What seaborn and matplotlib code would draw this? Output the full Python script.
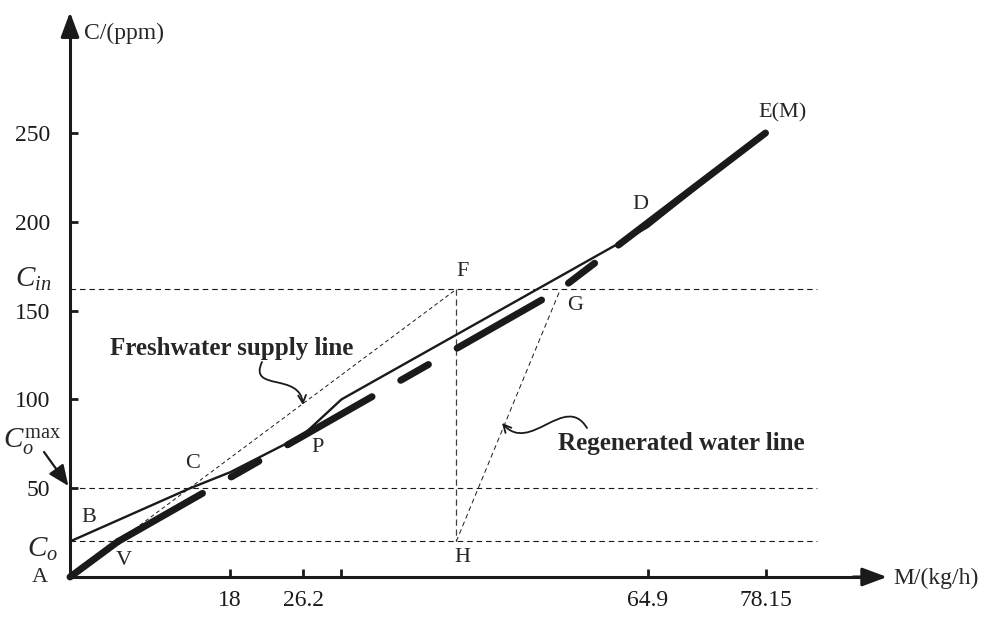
import numpy as np
import pandas as pd
import matplotlib.pyplot as plt
import seaborn as sns
from matplotlib.path import Path
from matplotlib.patches import FancyArrowPatch

# solid curve B-C-P-D-E
lcc_m = [0, 13.5, 18, 26.2, 30.5, 64.9, 78.15]
lcc_c = [20, 50, 59, 80, 100, 197, 250]

# thick dashed curve A-V-G-E
reg_m = [0, 5.4, 55.1, 78.15]
reg_c = [0, 20, 162, 250]

c_o = 20
c_o_max = 50
c_in = 162
h_end = 83.9

fresh_m = [5.4, 43.4]   # V -> F
fresh_c = [20, 162]
regen_m = [43.4, 55.1]  # H -> G
regen_c = [20, 162]
fh_m = [43.4, 43.4]     # F -> H
fh_c = [162, 20]

x_ticks = [18, 26.2, 30.5, 64.9, 78.15]
x_tick_labels = ['18', '26.2', '', '64.9', '78.15']
y_ticks = [50, 100, 150, 200, 250]

point_names = ['A', 'B', 'C', 'V', 'P', 'F', 'G', 'H', 'D', 'E(M)']
point_m = [0, 0, 13.5, 5.4, 26.2, 43.4, 55.1, 43.4, 64.9, 78.15]
point_c = [0, 20, 50, 20, 80, 162, 162, 20, 197, 250]
label_off = [(-30, 0), (19, 24), (2, 25), (6, -19), (14, -13),
             (6, 18), (15, -16), (6, -16), (-7, 23), (17, 20)]

# pixel scale of the picture
sx, sy = 8.9, 1.776


def to_data(px, py):
    return ((px - 70) / sx, (577 - py) / sy)


sns.set_theme(style="ticks")
plt.rcParams['font.family'] = ['Liberation Serif', 'DejaVu Serif']
plt.rcParams['mathtext.fontset'] = 'custom'
plt.rcParams['mathtext.rm'] = 'Liberation Serif'
plt.rcParams['mathtext.it'] = 'Liberation Serif:italic'

fig = plt.figure(figsize=(9.86, 6.17), dpi=100)
ax = fig.add_axes([0, 0, 1, 1])
ax.set_xlim(-70 / sx, 916 / sx)
ax.set_ylim(-40 / sy, 577 / sy)

# thin dashed guide lines
for lvl in [c_o, c_o_max, c_in]:
    ax.hlines(lvl, 0, h_end, colors='k', lw=0.8, linestyles=(0, (5, 3.5)))
sns.lineplot(x=fh_m, y=fh_c, ax=ax, color='0.25', lw=0.9,
             linestyle=(0, (5, 3)), estimator=None, sort=False)
sns.lineplot(x=fresh_m, y=fresh_c, ax=ax, color='k', lw=0.7,
             linestyle=(0, (4, 3)), estimator=None, sort=False)
sns.lineplot(x=regen_m, y=regen_c, ax=ax, color='k', lw=0.7,
             linestyle=(0, (5, 3.5)), estimator=None, sort=False)

# main curves
sns.lineplot(x=lcc_m, y=lcc_c, ax=ax, color='k', lw=1.7,
             estimator=None, sort=False)
thick = dict(ax=ax, color='k', lw=5, dash_capstyle='round',
             solid_capstyle='round', estimator=None, sort=False)
sns.lineplot(x=reg_m[:2], y=reg_c[:2], linestyle='-', **thick)
sns.lineplot(x=reg_m[1:3], y=reg_c[1:3],
             linestyle=(0, (14, 4.75, 4.6, 4.75)), **thick)
sns.lineplot(x=reg_m[2:], y=reg_c[2:],
             linestyle=(39.3, (4.75, 4.3, 28.8, 2.9)), **thick)

# axes through the origin with arrows
for s in ['top', 'right']:
    ax.spines[s].set_visible(False)
ax.spines['left'].set_position(('data', 0))
ax.spines['bottom'].set_position(('data', 0))
ax.spines['left'].set_bounds(0, 312)
ax.spines['bottom'].set_bounds(0, 90)
for s in ['left', 'bottom']:
    ax.spines[s].set_color('k')
    ax.spines[s].set_linewidth(2.2)
    ax.spines[s].set_zorder(5)

arrow_kw = dict(arrowstyle='-|>,head_length=0.75,head_width=0.28',
                color='k', lw=2.2, mutation_scale=20, shrinkA=0, shrinkB=0)
ax.annotate('', xy=(91.8, 0), xytext=(88, 0), arrowprops=arrow_kw)
ax.annotate('', xy=(0, 318), xytext=(0, 305), arrowprops=arrow_kw)

ax.set_xticks(x_ticks, x_tick_labels)
ax.set_yticks(y_ticks)
ax.tick_params(direction='in', length=6, width=2, labelsize=17, colors='k')
ax.tick_params(axis='x', pad=9)
ax.tick_params(axis='y', pad=14)

ax.text(*to_data(84, 33), 'C/(ppm)', fontsize=17, ha='left', va='center')
ax.text(*to_data(893, 578), 'M/(kg/h)', fontsize=17, ha='left', va='center')

# point labels
for name, m, c, off in zip(point_names, point_m, point_c, label_off):
    ax.annotate(name, (m, c), xytext=off, textcoords='offset pixels',
                ha='center', va='center', fontsize=16)

# concentration labels on the left
ax.text(*to_data(51, 287), r'$C_{in}$', fontsize=21, ha='right', va='baseline')
ax.text(*to_data(58, 557), r'$C_{o}$', fontsize=21, ha='right', va='baseline')
ax.text(*to_data(61, 448), r'$C_{o}^{\mathrm{max}}$', fontsize=21,
        ha='right', va='baseline')
ax.annotate('', xy=(0, c_o_max), xytext=to_data(44, 452),
            arrowprops=dict(arrowstyle='-|>,head_length=0.7,head_width=0.3',
                            color='k', lw=1.6, mutation_scale=18,
                            shrinkA=0, shrinkB=2))

# line names with curly pointers
ax.text(*to_data(232, 355), 'Freshwater supply line', fontsize=18,
        fontweight='bold', ha='center', va='baseline')
ax.text(*to_data(681, 450), 'Regenerated water line', fontsize=18,
        fontweight='bold', ha='center', va='baseline')

curves = [
    [(262, 362), (248, 392), (300, 372), (303, 405)],
    [(587, 428), (565, 392), (530, 455), (502, 423)],
]
for pts in curves:
    verts = [to_data(*p) for p in pts]
    path = Path(verts, [Path.MOVETO, Path.CURVE4, Path.CURVE4, Path.CURVE4])
    ax.add_patch(FancyArrowPatch(path=path, arrowstyle='->', color='k',
                                 lw=1.3, mutation_scale=14))

fig.savefig('out.png', dpi=100)
